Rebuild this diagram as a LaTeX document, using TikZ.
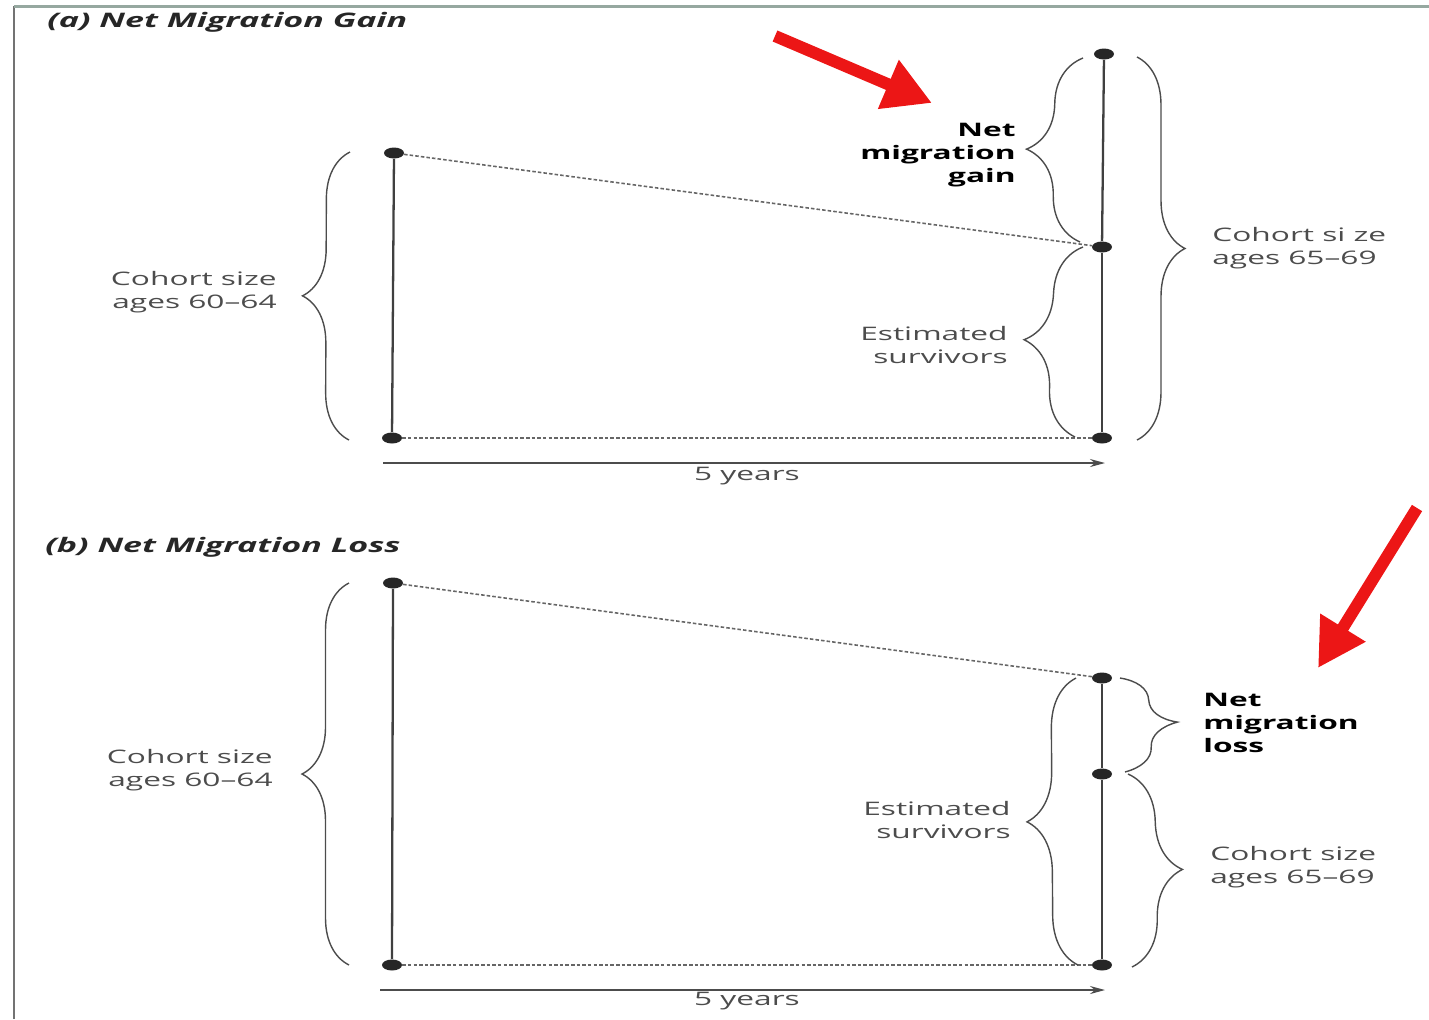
\documentclass[tikz,border=0pt]{standalone}
\usepackage{fontspec}
\setmainfont{Open Sans}
\newfontfamily\labfont[FakeStretch=1.7]{Open Sans}
\usetikzlibrary{arrows.meta,calc,decorations.pathreplacing,shapes.geometric}
\definecolor{arrowred}{RGB}{236,22,22}
\definecolor{framegray}{RGB}{150,168,160}

\begin{document}
\begin{tikzpicture}
        [x=0.02cm, y=-0.02cm,
        dot/.style={ellipse, fill=black!85, inner sep=0, minimum width=0.4cm, minimum height=0.22cm},
        bar/.style={line width=1.3pt, black!75},
        link/.style={black!60, line width=0.9pt, dash pattern=on 2pt off 1.2pt},
        brc/.style={decorate, decoration={brace, amplitude=#1}, black!70, line width=0.8pt},
        lab/.style={font=\labfont\fontsize{10.6}{13}\selectfont, text=black!70, inner sep=0},
        boldlab/.style={font=\labfont\bfseries\fontsize{10.6}{13}\selectfont, text=black, inner sep=0},
        title/.style={font=\labfont\bfseries\itshape\fontsize{11.4}{13}\selectfont, text=black!85, anchor=west, inner sep=0},
        timeline/.style={line width=1pt, black!70, -{Stealth[length=0.3cm, width=0.16cm]}},
        pointer/.style={arrowred, line width=0.24cm, -{Triangle[length=0.95cm, width=1.0cm]}}]

        \useasboundingbox (0,0) rectangle (1429,1019);

        % frame
        \coordinate (fa) at (14,1019);
        \coordinate (fb) at (14,6);
        \coordinate (fc) at (1429,6);
        \draw[line width=0.06cm, black!55] (fa) -- (fb);
        \draw[line width=0.06cm, framegray] (fb) -- (fc);

        % (a) net migration gain
        \node[title] (tta) at (47,22) {(a) Net Migration Gain};
        \node[dot] (ta) at (394,153) {};
        \node[dot] (ba) at (392,438) {};
        \node[dot] (ua) at (1104,54) {};
        \node[dot] (ma) at (1102,247) {};
        \node[dot] (la) at (1102,438) {};

        \draw[bar] (ta) -- (ba);
        \draw[bar] (ua) -- (ma);
        \draw[bar] (ma) -- (la);
        \draw[link] (ta) -- (ma);
        \draw[link] (ba) -- (la);

        \draw[brc=0.94cm] ($(ba)+(-43,2)$) -- ($(ta)+(-44,-1)$);
        \draw[brc=1.1cm] ($(ma)+(-22,-5)$) -- ($(ua)+(-21,4)$);
        \draw[brc=1.1cm] ($(la)+(-27,-1)$) -- ($(ma)+(-19,0)$);
        \draw[brc=0.96cm] ($(ua)+(33,3)$) -- ($(la)+(35,2)$);

        \node[lab, anchor=east, align=right] (ca) at (277,292) {Cohort size\\ages 60–64};
        \node[boldlab, anchor=east, align=right] (ga) at (1016,155) {Net\\migration\\gain};
        \node[lab, anchor=east, align=right] (sa) at (1008,345) {Estimated\\survivors};
        \node[lab, anchor=west, align=left] (da) at (1212,248) {Cohort si ze\\ages 65–69};

        \coordinate (ya1) at (383,463);
        \coordinate (ya2) at (1105,463);
        \draw[timeline] (ya1) -- (ya2);
        \node[lab] (yla) at (747,476) {5 years};

        \coordinate (pa1) at (775,36);
        \coordinate (pa2) at (932,103);
        \draw[pointer] (pa1) -- (pa2);

        % (b) net migration loss
        \node[title] (ttb) at (45,547) {(b) Net Migration Loss};
        \node[dot] (tb) at (393,583) {};
        \node[dot] (bb) at (392,965) {};
        \node[dot] (ub) at (1102,678) {};
        \node[dot] (mb) at (1102,774) {};
        \node[dot] (lb) at (1102,965) {};

        \draw[bar] (tb) -- (bb);
        \draw[bar] (ub) -- (mb);
        \draw[bar] (mb) -- (lb);
        \draw[link] (tb) -- (ub);
        \draw[link] (bb) -- (lb);

        \draw[brc=0.94cm] ($(bb)+(-43,0)$) -- ($(tb)+(-44,0)$);
        \draw[brc=1.0cm] ($(lb)+(-24,0)$) -- ($(ub)+(-26,0)$);
        \draw[brc=1.1cm] ($(ub)+(18,0)$) -- ($(mb)+(23,-2)$);
        \draw[brc=1.05cm] ($(mb)+(26,0)$) -- ($(lb)+(30,2)$);

        \node[lab, anchor=east, align=right] (cb) at (273,770) {Cohort size\\ages 60–64};
        \node[lab, anchor=east, align=right] (sb) at (1011,820) {Estimated\\survivors};
        \node[boldlab, anchor=west, align=left] (gb) at (1203,723) {Net\\migration\\loss};
        \node[lab, anchor=west, align=left] (db) at (1210,867) {Cohort size\\ages 65–69};

        \coordinate (yb1) at (380,990);
        \coordinate (yb2) at (1105,990);
        \draw[timeline] (yb1) -- (yb2);
        \node[lab] (ylb) at (747,1001) {5 years};

        \coordinate (pb1) at (1417,508);
        \coordinate (pb2) at (1318,668);
        \draw[pointer] (pb1) -- (pb2);

    \end{tikzpicture}
\end{document}
